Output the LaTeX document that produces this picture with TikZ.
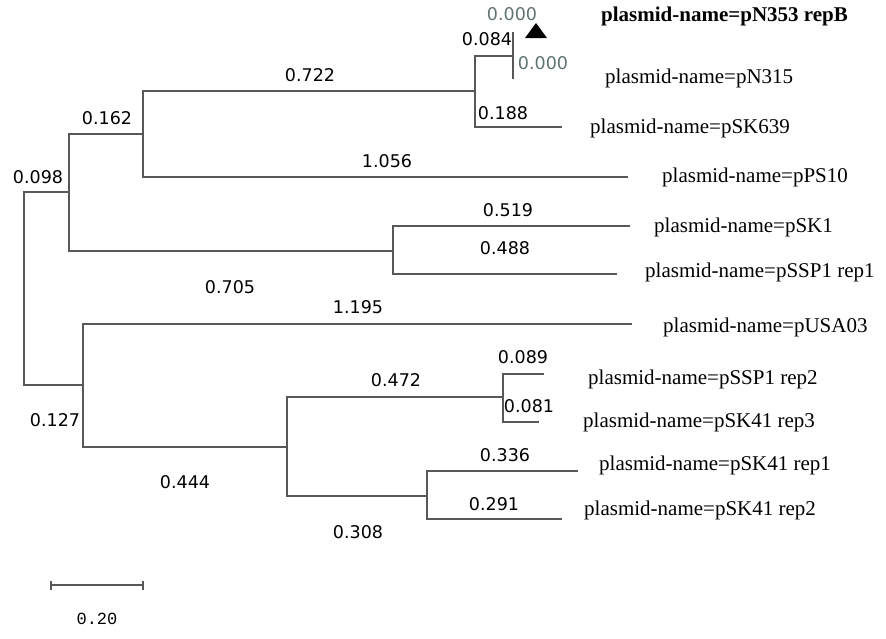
\documentclass[tikz,border=0pt]{standalone}
\usepackage{fontspec}
\setmainfont{Liberation Serif}
\newfontfamily\lenfont{DejaVu Sans}
\newfontfamily\barfont{Liberation Mono}
\usetikzlibrary{positioning}
\definecolor{branchgray}{RGB}{88,88,88}
\definecolor{zerogray}{RGB}{96,114,114}

\begin{document}
\begin{tikzpicture}[x=1pt,y=-1pt]
\tikzstyle{branch}=[draw=branchgray, line width=1.1pt]
\tikzstyle{len}=[font=\lenfont\fontsize{17.5}{18}\selectfont, inner sep=0pt]
\tikzstyle{zero}=[len, text=zerogray]
\tikzstyle{taxon}=[font=\fontsize{21}{22}\selectfont, anchor=west, inner sep=0pt]
  \useasboundingbox (0,0) rectangle (886,638);

  % inner nodes
  \coordinate (root) at (24,288);
  \coordinate (a) at (69,192);
  \coordinate (b) at (143,134);
  \coordinate (c) at (475,91);
  \coordinate (d) at (513,56);
  \coordinate (e) at (393,251);
  \coordinate (f) at (83,385);
  \coordinate (g) at (287,447);
  \coordinate (h) at (503,397);
  \coordinate (i) at (427,496);

  % leaf tips
  \coordinate (tN353) at (513,32);
  \coordinate (tN315) at (513,79);
  \coordinate (tSK639) at (562,127);
  \coordinate (tPS10) at (628,177);
  \coordinate (tSK1) at (630,226);
  \coordinate (tSSP1a) at (617,274);
  \coordinate (tUSA03) at (632,324);
  \coordinate (tSSP1b) at (544,374);
  \coordinate (tSK41c) at (539,422);
  \coordinate (tSK41a) at (578,471);
  \coordinate (tSK41b) at (562,519);

  \path[branch] (root) |- (a) (root) |- (f)
    (a) |- (b) (a) |- (e)
    (b) |- (c) (b) |- (tPS10)
    (c) |- (d) (c) |- (tSK639)
    (d) |- (tN353) (d) |- (tN315)
    (e) |- (tSK1) (e) |- (tSSP1a)
    (f) |- (tUSA03) (f) |- (g)
    (g) |- (h) (g) |- (i)
    (h) |- (tSSP1b) (h) |- (tSK41c)
    (i) |- (tSK41a) (i) |- (tSK41b);

  \fill (536,23) -- (547,38) -- (525,38) -- cycle;

  % taxa
  \node[taxon, font=\bfseries\fontsize{21}{22}\selectfont] (N353) at (601,16.5) {plasmid-name=pN353 repB};
  \node[taxon] (N315) at (605,78) {plasmid-name=pN315};
  \node[taxon] (SK639) at (590,128) {plasmid-name=pSK639};
  \node[taxon] (PS10) at (662,177) {plasmid-name=pPS10};
  \node[taxon] (SK1) at (654,227) {plasmid-name=pSK1};
  \node[taxon] (SSP1a) at (645,272) {plasmid-name=pSSP1 rep1};
  \node[taxon] (USA03) at (663,327) {plasmid-name=pUSA03};
  \node[taxon] (SSP1b) at (588,379) {plasmid-name=pSSP1 rep2};
  \node[taxon] (SK41c) at (583,422) {plasmid-name=pSK41 rep3};
  \node[taxon] (SK41a) at (599,465) {plasmid-name=pSK41 rep1};
  \node[taxon] (SK41b) at (584,510) {plasmid-name=pSK41 rep2};

  % branch lengths
  \node[zero] (lN353) at (512,14) {0.000};
  \node[zero] (lN315) at (543,63) {0.000};
  \node[len] (ld) at (487,39) {0.084};
  \node[len] (lSK639) at (503,113) {0.188};
  \node[len] (lc) at (310,75) {0.722};
  \node[len] (lb) at (107,118) {0.162};
  \node[len] (lPS10) at (387,161) {1.056};
  \node[len] (la) at (38,177) {0.098};
  \node[len] (lSK1) at (508,210) {0.519};
  \node[len] (lSSP1a) at (505,248) {0.488};
  \node[len] (le) at (230,287) {0.705};
  \node[len] (lUSA03) at (358,307) {1.195};
  \node[len] (lh) at (396,380) {0.472};
  \node[len] (lSSP1b) at (523,357) {0.089};
  \node[len] (lSK41c) at (529,406) {0.081};
  \node[len] (lf) at (55,420) {0.127};
  \node[len] (lSK41a) at (505,455) {0.336};
  \node[len] (lg) at (185,482) {0.444};
  \node[len] (lSK41b) at (494,504) {0.291};
  \node[len] (li) at (358,532) {0.308};

  % scale bar
  \coordinate (sbl) at (51,585);
  \coordinate (sbr) at (143,585);
  \draw[branch] (sbl) -- (sbr);
  \draw[branch] ([yshift=-4.5pt]sbl) -- ([yshift=4.5pt]sbl);
  \draw[branch] ([yshift=-4.5pt]sbr) -- ([yshift=4.5pt]sbr);
  \node[font=\barfont\fontsize{17}{18}\selectfont, inner sep=0pt] (scale) at (97,619) {0.20};
\end{tikzpicture}
\end{document}
